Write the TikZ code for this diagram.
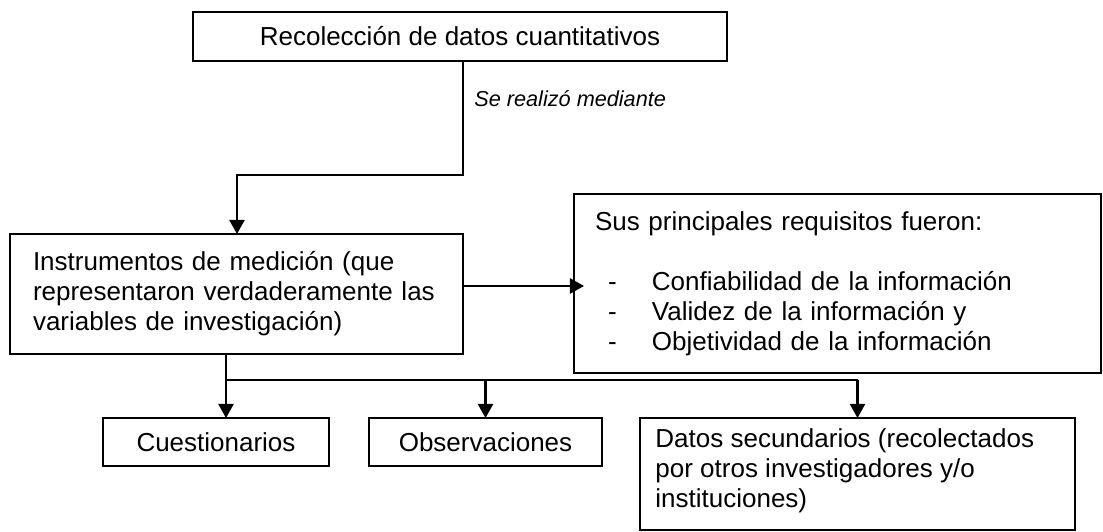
\documentclass[tikz,border=0pt]{standalone}
\usepackage{fontspec}
\setmainfont{Liberation Sans}
\usetikzlibrary{arrows.meta,calc}
\def\U{0.4615pt}
\newcommand\bul{\makebox[26.3pt][l]{\hspace*{6pt}-}}
\begin{document}
\begin{tikzpicture}[x=0.4615pt,y=-0.4615pt,
  box/.style={draw, line width=0.85pt, rectangle, inner sep=0pt, outer sep=0pt},
  lbl/.style={font=\fontsize{12pt}{13.8pt}\selectfont},
  conn/.style={line width=0.95pt},
  arr/.style={conn,-{Triangle[length=6.5pt,width=7pt]}}]
\useasboundingbox (0,0) rectangle (1103,532);

\node[box, minimum width=534*\U, minimum height=49*\U, lbl] (rec) at (460,36.5) {Recolección de datos cuantitativos};

\node[box, anchor=north west, minimum width=453*\U, minimum height=120*\U, text width=407*\U, inner xsep=23*\U, align=left, lbl] (ins) at (10,234) {Instrumentos de medición (que\\representaron verdaderamente las\\variables de investigación)};

\node[box, anchor=north west, minimum width=527*\U, minimum height=179*\U, text width=485*\U, inner xsep=21*\U, align=left, lbl] (req) at (574,194) {Sus principales requisitos fueron:\\[13.8pt]\bul Confiabilidad de la información\\\bul Validez de la información y\\\bul Objetividad de la información};

\node[anchor=west, inner sep=0pt, font=\fontsize{10pt}{12pt}\selectfont\itshape] (lab) at (474,99) {Se realizó mediante};

\node[box, anchor=north west, minimum width=226*\U, minimum height=48*\U, lbl] (cue) at (103,418) {Cuestionarios};
\node[box, anchor=north west, minimum width=233*\U, minimum height=48*\U, lbl] (obs) at (369,418) {Observaciones};
\node[box, anchor=north west, minimum width=435*\U, minimum height=112*\U] (dat) at (640,418) {};
\node[anchor=north west, inner sep=0pt, align=left, lbl] (datt) at (655,428) {Datos secundarios (recolectados\\por otros investigadores y/o\\instituciones)};

\coordinate (k1) at (237,175);
\draw[arr] (rec.south -| ins.east) |- (k1) -- (k1 |- ins.north);
\coordinate (ha) at (463,286);
\draw[arr] (ha) -- ($(req.west |- ha)+(10,0)$);
\coordinate (j) at (226,380);
\draw[conn] (ins.south -| j) -- (j) -- (j -| dat.north);
\draw[arr] (j) -- (j |- cue.north);
\draw[arr] (j -| obs.north) -- (obs.north);
\draw[arr] (j -| dat.north) -- (dat.north);
\end{tikzpicture}
\end{document}
